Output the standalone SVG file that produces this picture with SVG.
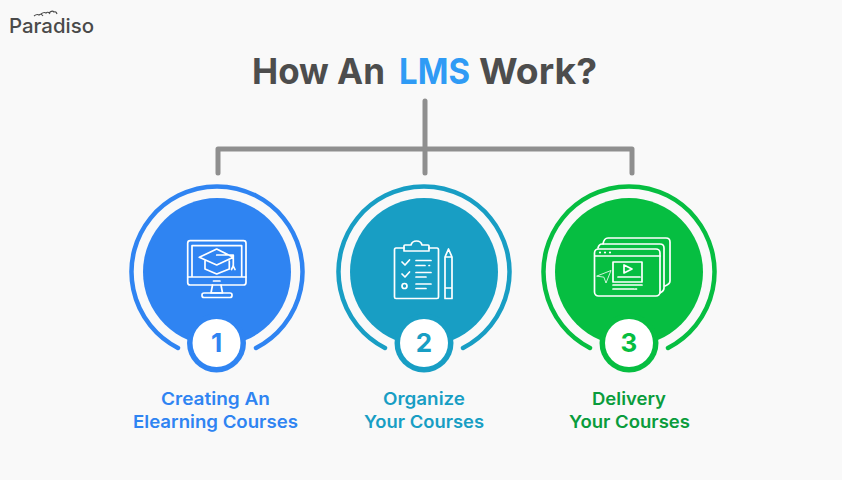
<svg xmlns="http://www.w3.org/2000/svg" width="842" height="480" viewBox="0 0 842 480">
<defs><style>
text{font-family:Inter,"Liberation Sans",sans-serif}
.ring{fill:none;stroke-width:4.5;stroke-linecap:round}
.ic{fill:none;stroke:#fff;stroke-width:1.7;stroke-linecap:round;stroke-linejoin:round}
.lab{font-size:17.500px;font-weight:600}
.num{font-size:26px;font-weight:700;text-anchor:middle}
.ttl{font-size:36px;font-weight:700;fill:#4d4d4d}
.blue{fill:#2f84f2}.teal{fill:#189ec4}.green{fill:#06be41}
</style></defs>
<rect width="842" height="480" fill="#f9f9f9"/>
<g id="logo">
<text x="9" y="33" font-size="20" font-weight="500" fill="#4a4a4a" textLength="85" lengthAdjust="spacingAndGlyphs">Paradiso</text>
<path d="M34 16q3-2.500 5-1q2-2 4 1M41 14q3-2.500 5-1q2-2 4 1M49 13q3-3 5-1q2-1 3 2" fill="none" stroke="#4a4a4a" stroke-width="1.100"/>
</g>
<g id="title">
<text x="252" y="84" class="ttl" textLength="133" lengthAdjust="spacingAndGlyphs">How An</text>
<text x="399" y="84" class="ttl" style="fill:#2f9bf5" textLength="71" lengthAdjust="spacingAndGlyphs">LMS</text>
<text x="479" y="84" class="ttl" textLength="118" lengthAdjust="spacingAndGlyphs">Work?</text>
</g>
<g id="connectors" fill="none" stroke="#8f8f8f" stroke-width="5" stroke-linecap="round" stroke-linejoin="round">
<path d="M425 101V173"/>
<path d="M218 173V149H632V173"/>
</g>
<g id="node1">
<circle cx="217" cy="272" r="74" class="blue"/>
<path d="M178 348A85.500 85.500 0 1 1 256 348" class="ring" stroke="#2f84f2"/>
<circle cx="216.500" cy="343" r="29.500" class="blue"/>
<circle cx="216.500" cy="343" r="24" fill="#fff"/>
<text x="216.500" y="352" class="num" fill="#2f84f2">1</text>
<g class="ic">
<rect x="187.700" y="240.700" width="58.300" height="44.300" rx="2.500"/>
<path d="M192 277V245.700H241.700V277M187.700 277H246M213.500 281H220"/>
<path d="M216.700 249L233.300 257.300L216.700 265L199.300 257.300ZM205 261V269L216.700 274L229.300 269V261M216.700 255H233.300V266"/>
<path d="M231.500 269.500L233.300 266L235 269.500"/>
<path d="M212.500 285L211 293H222.500L221 285"/>
<rect x="202" y="293" width="30" height="4.500" rx="2"/>
</g>
<text class="lab" x="161" y="405" fill="#2f84f2" textLength="109" lengthAdjust="spacingAndGlyphs">Creating An</text>
<text class="lab" x="133" y="428" fill="#2f84f2" textLength="165" lengthAdjust="spacingAndGlyphs">Elearning Courses</text>
</g>
<g id="node2">
<circle cx="424" cy="272" r="74" class="teal"/>
<path d="M385 348A85.500 85.500 0 1 1 463 348" class="ring" stroke="#189ec4"/>
<circle cx="424" cy="343" r="29.500" class="teal"/>
<circle cx="424" cy="343" r="24" fill="#fff"/>
<text x="424" y="352" class="num" fill="#189ec4">2</text>
<g class="ic">
<path d="M404 248H396Q394.500 248 394.500 250V297Q394.500 298.500 396 298.500H437Q438.500 298.500 438.500 297V250Q438.500 248 437 248H429"/>
<path d="M404 251V246Q404 245 405 245H411Q412 241 416.500 241Q421 241 422 245H428Q429 245 429 246V251Z"/>
<path d="M402 262L405 265L409.500 260M402 274L405 277L409.500 272"/>
<circle cx="404.500" cy="286" r="2.500"/>
<path d="M416 260.500H431M416 265.500H425M429 265.500H429.500M416 272.500H431M416 277H426M416 284H431M416 288.500H426"/>
<path d="M445 257L448.500 249L452 257V298.500H445ZM445 257H452M445 288H452"/>
</g>
<text class="lab" x="383" y="405" fill="#189ec4" textLength="82" lengthAdjust="spacingAndGlyphs">Organize</text>
<text class="lab" x="364" y="428" fill="#189ec4" textLength="120" lengthAdjust="spacingAndGlyphs">Your Courses</text>
</g>
<g id="node3">
<circle cx="629" cy="272" r="74" class="green"/>
<path d="M590 348A85.500 85.500 0 1 1 668 348" class="ring" stroke="#06be41"/>
<circle cx="629" cy="343" r="29.500" class="green"/>
<circle cx="629" cy="343" r="24" fill="#fff"/>
<text x="629" y="352" class="num" fill="#06be41">3</text>
<g class="ic">
<path d="M603 244Q604 238 608 238H666Q670 238 670 242V281Q670 284 665 286"/>
<path d="M598 248Q599 244 602 244H660Q664 244 664 248V288Q664 291 660 293"/>
<rect x="594.500" y="249" width="65.500" height="47" rx="4"/>
<path d="M595 256H660M613 262H642V282H613Z"/>
<path d="M624 265V273L632 269Z"/><path d="M618 277H640"/>
<path d="M613 285H642M613 289H634M635.500 289H636.500"/>
<path d="M597 276L611 270.500L606 283L604 277.500Z" stroke-width="0.800"/>
</g>
<g fill="#fff"><circle cx="600" cy="252.500" r="1.100"/><circle cx="605" cy="252.500" r="1.100"/><circle cx="610" cy="252.500" r="1.100"/></g>
<text class="lab" x="592" y="405" fill="#0a9c3c" textLength="74" lengthAdjust="spacingAndGlyphs">Delivery</text>
<text class="lab" x="569" y="428" fill="#0a9c3c" textLength="121" lengthAdjust="spacingAndGlyphs">Your Courses</text>
</g>
</svg>
